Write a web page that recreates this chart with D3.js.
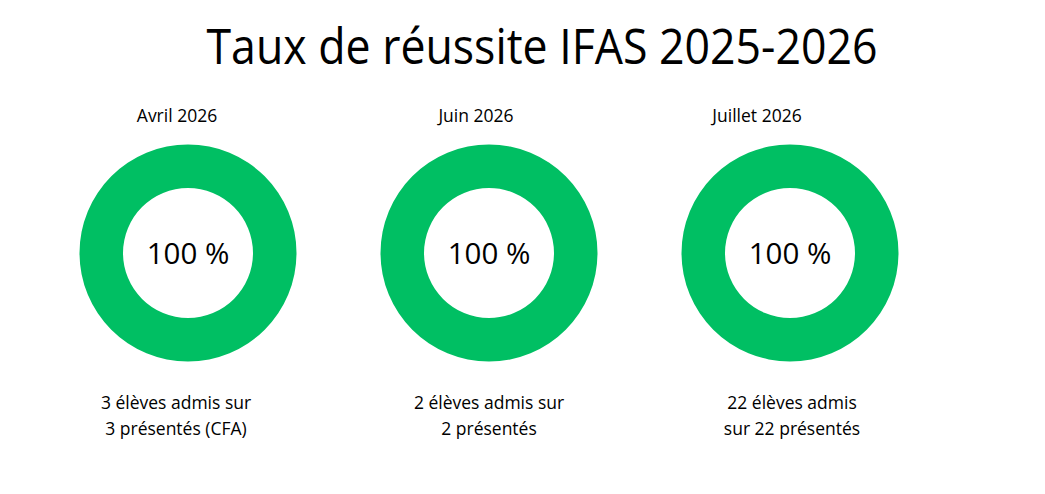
<!DOCTYPE html>
<html>
  <head>
    <meta charset="utf-8">
    <title>Taux de réussite IFAS 2025-2026</title>
    <script src="https://d3js.org/d3.v7.min.js"></script>
    <style>
      body {
        margin: 0;
        background: #fff;
      }
      svg text {
        font-family: "Open Sans", "Noto Sans", sans-serif;
        fill: #000;
      }
    </style>
  </head>
<body>
<div id="chart"></div>

<script>
// data
var months = ["Avril 2026", "Juin 2026", "Juillet 2026"];
var admis = [3, 2, 22];
var presentes = [3, 2, 22];
var captions = [
  ["3 élèves admis sur", "3 présentés (CFA)"],
  ["2 élèves admis sur", "2 présentés"],
  ["22 élèves admis", "sur 22 présentés"]
];

var width = 1045, height = 494;
var outerR = 108.5, innerR = 65;
var cy = 253;
// the text boxes are not quite centred on the rings in the original
var labelDx = [-11, -13, -33];
var captionDx = [-12, 0, 2];

var svg = d3.select("#chart").append("svg")
  .attr("width", width)
  .attr("height", height);

// original font is narrower than Open Sans, squeeze to the same width
svg.append("text")
  .attr("x", 542)
  .attr("y", 64)
  .attr("text-anchor", "middle")
  .attr("textLength", 671)
  .attr("lengthAdjust", "spacingAndGlyphs")
  .style("font-size", "50px")
  .text("Taux de réussite IFAS 2025-2026");

var x = d3.scalePoint()
  .domain(months)
  .range([188, 790]);

var pie = d3.pie().sort(null).value(function(d) { return d.v; });
var arc = d3.arc().innerRadius(innerR).outerRadius(outerR);
var color = d3.scaleOrdinal().domain(["ok", "ko"]).range(["#00bf63", "#e6e6e6"]);

var groups = svg.selectAll("g.donut")
  .data(months)
  .enter().append("g")
  .attr("class", "donut")
  .attr("transform", function(m) { return "translate(" + x(m) + "," + cy + ")"; });

groups.selectAll("path")
  .data(function(m, i) {
    return pie([
      { k: "ok", v: admis[i] },
      { k: "ko", v: presentes[i] - admis[i] }
    ]);
  })
  .enter().append("path")
  .attr("d", arc)
  .attr("fill", function(d) { return color(d.data.k); });

groups.append("text")
  .attr("text-anchor", "middle")
  .attr("y", 10.5)
  .style("font-size", "29.5px")
  .text(function(m, i) { return d3.format(".0f")(admis[i] / presentes[i] * 100) + " %"; });

groups.append("text")
  .attr("text-anchor", "middle")
  .attr("x", function(m, i) { return labelDx[i]; })
  .attr("y", 121.5 - cy)
  .style("font-size", "17.5px")
  .text(function(m) { return m; });

groups.each(function(m, i) {
  d3.select(this).selectAll("text.cap")
    .data(captions[i])
    .enter().append("text")
    .attr("class", "cap")
    .attr("text-anchor", "middle")
    .attr("x", captionDx[i])
    .attr("y", function(d, j) { return 408.5 - cy + j * 26.5; })
    .style("font-size", "17.5px")
    .text(function(d) { return d; });
});
</script>
</body>
</html>
